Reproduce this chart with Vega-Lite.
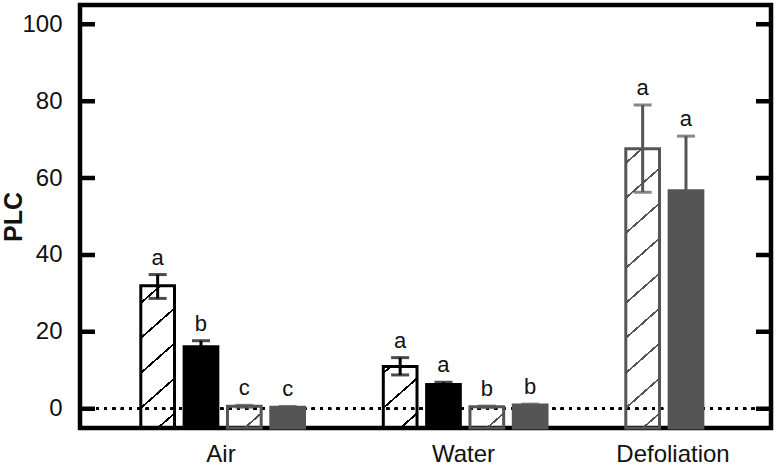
{
  "$schema": "https://vega.github.io/schema/vega-lite/v6.json",
  "width": 691,
  "height": 423,
  "autosize": "none",
  "padding": {"left": 80, "top": 5, "right": 9, "bottom": 37},
  "background": "white",
  "config": {
    "font": "Liberation Sans",
    "view": {"stroke": "black", "strokeWidth": 4.5},
    "axis": {"labelColor": "#111", "titleColor": "#111", "domain": false, "grid": false}
  },
  "datasets": {
    "bars": [
      {"group": "Air", "trt": "k1", "plc": 32.0, "lo": 28.7, "hi": 34.9, "letter": "a"},
      {"group": "Air", "trt": "k2", "plc": 16.1, "lo": 14.5, "hi": 17.7, "letter": "b"},
      {"group": "Air", "trt": "g1", "plc": 0.65, "lo": 0.4, "hi": 0.9, "letter": "c"},
      {"group": "Air", "trt": "g2", "plc": 0.4, "lo": 0.2, "hi": 0.6, "letter": "c"},
      {"group": "Water", "trt": "k1", "plc": 11.0, "lo": 8.8, "hi": 13.3, "letter": "a"},
      {"group": "Water", "trt": "k2", "plc": 6.3, "lo": 5.7, "hi": 6.9, "letter": "a"},
      {"group": "Water", "trt": "g1", "plc": 0.5, "lo": 0.3, "hi": 0.7, "letter": "b"},
      {"group": "Water", "trt": "g2", "plc": 0.95, "lo": 0.7, "hi": 1.2, "letter": "b"},
      {"group": "Defoliation", "trt": "g1", "plc": 67.6, "lo": 56.3, "hi": 79.0, "letter": "a"},
      {"group": "Defoliation", "trt": "g2", "plc": 56.7, "lo": 42.6, "hi": 70.9, "letter": "a"}
    ],
    "ticks": [
      {"tick": 0}, {"tick": 20}, {"tick": 40}, {"tick": 60}, {"tick": 80}, {"tick": 100}
    ]
  },
  "data": {"name": "bars"},
  "encoding": {
    "x": {
      "field": "group", "type": "nominal",
      "scale": {"domain": ["Air", "Water", "Defoliation"], "range": [0, 691], "paddingInner": 0.1505, "paddingOuter": 0},
      "axis": {
        "title": null, "ticks": false, "grid": false, "labelAngle": 0, "labelFontSize": 24, "labelPadding": 14,
        "labelColor": "#111",
        "labelOffset": {"condition": {"test": "datum.value === 'Defoliation'", "value": 5}, "value": 38}
      }
    }
  },
  "resolve": {"axis": {"y": "independent"}, "scale": {"xOffset": "independent"}},
  "layer": [
    {
      "mark": {"type": "rule", "stroke": "black", "strokeWidth": 2.7, "strokeDash": [2.7, 5.6]},
      "encoding": {
        "x": null,
        "y": {
          "datum": 0, "type": "quantitative",
          "scale": {"domain": [-5, 105], "nice": false, "zero": false},
          "axis": null
        }
      }
    },
    {
      "data": {"name": "ticks"},
      "mark": {"type": "rule", "stroke": "black", "strokeWidth": 4.5, "strokeDash": [15, 661]},
      "encoding": {
        "x": null,
        "y": {
          "field": "tick", "type": "quantitative",
          "scale": {"domain": [-5, 105], "nice": false, "zero": false},
          "axis": null
        }
      }
    },
    {
      "transform": [{"filter": "datum.group !== 'Defoliation'"}],
      "encoding": {
        "xOffset": {"field": "trt", "type": "nominal", "scale": {"domain": ["k1", "k2", "g1", "g2"], "range": [60.8, 224.5], "paddingInner": 0.222, "paddingOuter": 0}},
        "color": {"field": "trt", "type": "nominal", "scale": {"domain": ["k1", "k2", "g1", "g2"], "range": ["#000000", "#000000", "#555555", "#555555"]}, "legend": null}
      },
      "resolve": {"axis": {"y": "independent"}},
      "layer": [
        {
          "mark": {"type": "bar", "strokeWidth": 3},
          "encoding": {
            "y": {
              "field": "plc", "type": "quantitative",
              "scale": {"domain": [-5, 105], "nice": false, "zero": false},
              "axis": {
                "orient": "left", "title": "PLC", "titleFontSize": 25, "titleFontWeight": "bold", "titlePadding": -5,
                "labelFontSize": 24, "labelPadding": 18, "values": [0, 20, 40, 60, 80, 100],
                "ticks": false, "grid": false, "domain": false
              }
            },
            "y2": {"datum": -5},
            "color": null,
            "stroke": {"field": "trt", "type": "nominal", "scale": {"domain": ["k1", "k2", "g1", "g2"], "range": ["#000000", "#000000", "#555555", "#555555"]}, "legend": null},
            "fill": {
              "condition": [
                {"test": "datum.group === 'Air' && datum.trt === 'k1'", "value": {"gradient": "linear", "x1": 0, "y1": 0, "x2": 0.24143, "y2": 1.15813, "stops": [
                  {"offset": 0, "color": "rgba(255,255,255,0)"},
                  {"offset": 0.0935, "color": "rgba(255,255,255,0)"}, {"offset": 0.0935, "color": "#000"}, {"offset": 0.1075, "color": "#000"}, {"offset": 0.1075, "color": "rgba(255,255,255,0)"},
                  {"offset": 0.2971, "color": "rgba(255,255,255,0)"}, {"offset": 0.2971, "color": "#000"}, {"offset": 0.3111, "color": "#000"}, {"offset": 0.3111, "color": "rgba(255,255,255,0)"},
                  {"offset": 0.5006, "color": "rgba(255,255,255,0)"}, {"offset": 0.5006, "color": "#000"}, {"offset": 0.5146, "color": "#000"}, {"offset": 0.5146, "color": "rgba(255,255,255,0)"},
                  {"offset": 0.7042, "color": "rgba(255,255,255,0)"}, {"offset": 0.7042, "color": "#000"}, {"offset": 0.7182, "color": "#000"}, {"offset": 0.7182, "color": "rgba(255,255,255,0)"},
                  {"offset": 0.9078, "color": "rgba(255,255,255,0)"}, {"offset": 0.9078, "color": "#000"}, {"offset": 0.9218, "color": "#000"}, {"offset": 0.9218, "color": "rgba(255,255,255,0)"},
                  {"offset": 1, "color": "rgba(255,255,255,0)"}
                ]}},
                {"test": "datum.group === 'Water' && datum.trt === 'k1'", "value": {"gradient": "linear", "x1": 0, "y1": 0, "x2": 0.5797, "y2": 1.2026, "stops": [
                  {"offset": 0, "color": "rgba(255,255,255,0)"},
                  {"offset": 0.0584, "color": "rgba(255,255,255,0)"}, {"offset": 0.0584, "color": "#000"}, {"offset": 0.0848, "color": "#000"}, {"offset": 0.0848, "color": "rgba(255,255,255,0)"},
                  {"offset": 0.4422, "color": "rgba(255,255,255,0)"}, {"offset": 0.4422, "color": "#000"}, {"offset": 0.4686, "color": "#000"}, {"offset": 0.4686, "color": "rgba(255,255,255,0)"},
                  {"offset": 0.8260, "color": "rgba(255,255,255,0)"}, {"offset": 0.8260, "color": "#000"}, {"offset": 0.8524, "color": "#000"}, {"offset": 0.8524, "color": "rgba(255,255,255,0)"},
                  {"offset": 1, "color": "rgba(255,255,255,0)"}
                ]}},
                {"test": "datum.group === 'Air' && datum.trt === 'g1'", "value": {"gradient": "linear", "x1": 0, "y1": 0, "x2": 1.1275, "y2": 0.8260, "stops": [
                  {"offset": 0, "color": "rgba(255,255,255,0)"},
                  {"offset": 0.0103, "color": "rgba(255,255,255,0)"}, {"offset": 0.0103, "color": "#555"}, {"offset": 0.0570, "color": "#555"}, {"offset": 0.0570, "color": "rgba(255,255,255,0)"},
                  {"offset": 0.6914, "color": "rgba(255,255,255,0)"}, {"offset": 0.6914, "color": "#555"}, {"offset": 0.7381, "color": "#555"}, {"offset": 0.7381, "color": "rgba(255,255,255,0)"},
                  {"offset": 1, "color": "rgba(255,255,255,0)"}
                ]}},
                {"test": "datum.group === 'Water' && datum.trt === 'g1'", "value": {"gradient": "linear", "x1": 0, "y1": 0, "x2": 1.1357, "y2": 0.8098, "stops": [
                  {"offset": 0, "color": "#555"}, {"offset": 0.0462, "color": "#555"}, {"offset": 0.0462, "color": "rgba(255,255,255,0)"},
                  {"offset": 0.6879, "color": "rgba(255,255,255,0)"}, {"offset": 0.6879, "color": "#555"}, {"offset": 0.7351, "color": "#555"}, {"offset": 0.7351, "color": "rgba(255,255,255,0)"},
                  {"offset": 1, "color": "rgba(255,255,255,0)"}
                ]}},
                {"test": "datum.trt === 'k2'", "value": "#000000"}
              ],
              "value": "#555555"
            }
          }
        },
        {
          "mark": {"type": "rule", "strokeWidth": 3},
          "encoding": {
            "y": {"field": "lo", "type": "quantitative", "axis": null},
            "y2": {"field": "hi"}
          }
        },
        {
          "mark": {"type": "tick", "size": 18, "thickness": 3, "orient": "horizontal"},
          "encoding": {"y": {"field": "hi", "type": "quantitative", "axis": null}}
        },
        {
          "mark": {"type": "tick", "size": 18, "thickness": 3, "orient": "horizontal"},
          "encoding": {"y": {"field": "lo", "type": "quantitative", "axis": null}}
        },
        {
          "mark": {"type": "text", "fontSize": 22, "dy": -10, "baseline": "alphabetic", "align": "center"},
          "encoding": {
            "y": {"field": "hi", "type": "quantitative", "axis": null},
            "text": {"field": "letter"},
            "color": {"value": "#111"}
          }
        }
      ]
    },
    {
      "transform": [{"filter": "datum.group === 'Defoliation'"}],
      "encoding": {
        "xOffset": {"field": "trt", "type": "nominal", "scale": {"domain": ["g1", "g2", "-", "--"], "range": [60.8, 224.5], "paddingInner": 0.222, "paddingOuter": 0}},
        "color": {"field": "trt", "type": "nominal", "scale": {"domain": ["k1", "k2", "g1", "g2"], "range": ["#000000", "#000000", "#555555", "#555555"]}, "legend": null}
      },
      "resolve": {"axis": {"y": "independent"}},
      "layer": [
        {
          "mark": {"type": "bar", "strokeWidth": 3},
          "encoding": {
            "y": {"field": "plc", "type": "quantitative", "scale": {"domain": [-5, 105], "nice": false, "zero": false}, "axis": null},
            "y2": {"datum": -5},
            "color": null,
            "stroke": {"field": "trt", "type": "nominal", "scale": {"domain": ["k1", "k2", "g1", "g2"], "range": ["#000000", "#000000", "#555555", "#555555"]}, "legend": null},
            "fill": {
              "condition": [
                {"test": "datum.trt === 'g1'", "value": {"gradient": "linear", "x1": 0, "y1": 0, "x2": 0.11621, "y2": 1.09387, "stops": [
                  {"offset": 0, "color": "rgba(255,255,255,0)"},
                  {"offset": 0.0420, "color": "rgba(255,255,255,0)"}, {"offset": 0.0420, "color": "#555"}, {"offset": 0.0498, "color": "#555"}, {"offset": 0.0498, "color": "rgba(255,255,255,0)"},
                  {"offset": 0.1553, "color": "rgba(255,255,255,0)"}, {"offset": 0.1553, "color": "#555"}, {"offset": 0.1631, "color": "#555"}, {"offset": 0.1631, "color": "rgba(255,255,255,0)"},
                  {"offset": 0.2687, "color": "rgba(255,255,255,0)"}, {"offset": 0.2687, "color": "#555"}, {"offset": 0.2765, "color": "#555"}, {"offset": 0.2765, "color": "rgba(255,255,255,0)"},
                  {"offset": 0.3820, "color": "rgba(255,255,255,0)"}, {"offset": 0.3820, "color": "#555"}, {"offset": 0.3898, "color": "#555"}, {"offset": 0.3898, "color": "rgba(255,255,255,0)"},
                  {"offset": 0.4953, "color": "rgba(255,255,255,0)"}, {"offset": 0.4953, "color": "#555"}, {"offset": 0.5031, "color": "#555"}, {"offset": 0.5031, "color": "rgba(255,255,255,0)"},
                  {"offset": 0.6087, "color": "rgba(255,255,255,0)"}, {"offset": 0.6087, "color": "#555"}, {"offset": 0.6165, "color": "#555"}, {"offset": 0.6165, "color": "rgba(255,255,255,0)"},
                  {"offset": 0.7220, "color": "rgba(255,255,255,0)"}, {"offset": 0.7220, "color": "#555"}, {"offset": 0.7298, "color": "#555"}, {"offset": 0.7298, "color": "rgba(255,255,255,0)"},
                  {"offset": 0.8353, "color": "rgba(255,255,255,0)"}, {"offset": 0.8353, "color": "#555"}, {"offset": 0.8431, "color": "#555"}, {"offset": 0.8431, "color": "rgba(255,255,255,0)"},
                  {"offset": 0.9486, "color": "rgba(255,255,255,0)"}, {"offset": 0.9486, "color": "#555"}, {"offset": 0.9564, "color": "#555"}, {"offset": 0.9564, "color": "rgba(255,255,255,0)"},
                  {"offset": 1, "color": "rgba(255,255,255,0)"}
                ]}}
              ],
              "value": "#555555"
            }
          }
        },
        {
          "mark": {"type": "rule", "strokeWidth": 3},
          "encoding": {
            "y": {"field": "lo", "type": "quantitative", "axis": null},
            "y2": {"field": "hi"}
          }
        },
        {
          "mark": {"type": "tick", "size": 18, "thickness": 3, "orient": "horizontal"},
          "encoding": {"y": {"field": "hi", "type": "quantitative", "axis": null}}
        },
        {
          "mark": {"type": "tick", "size": 18, "thickness": 3, "orient": "horizontal"},
          "encoding": {"y": {"field": "lo", "type": "quantitative", "axis": null}}
        },
        {
          "mark": {"type": "text", "fontSize": 22, "dy": -10, "baseline": "alphabetic", "align": "center"},
          "encoding": {
            "y": {"field": "hi", "type": "quantitative", "axis": null},
            "text": {"field": "letter"},
            "color": {"value": "#111"}
          }
        }
      ]
    }
  ]
}
